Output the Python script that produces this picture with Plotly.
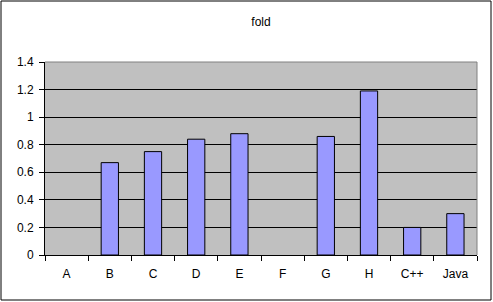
import plotly.graph_objects as go

categories = ["A", "B", "C", "D", "E", "F", "G", "H", "C++", "Java"]
values = [None, 0.67, 0.75, 0.84, 0.88, None, 0.86, 1.19, 0.20, 0.30]
y_ticks = [0, 0.2, 0.4, 0.6, 0.8, 1, 1.2, 1.4]
y_tick_text = ["0", "0.2", "0.4", "0.6", "0.8", "1", "1.2", "1.4"]

font_family = "Liberation Sans, Arial, sans-serif"

fig = go.Figure(
    go.Bar(
        x=categories,
        y=values,
        marker=dict(color="#9999FF", line=dict(color="black", width=1)),
    )
)

fig.update_layout(
    width=493,
    height=302,
    margin=dict(l=45, r=16, t=62, b=47),
    paper_bgcolor="white",
    plot_bgcolor="#C0C0C0",
    bargap=0.6,
    showlegend=False,
    font=dict(family=font_family, size=12, color="black"),
    title=dict(text="fold", x=0.5, xref="paper", xanchor="center",
               y=1 - 22 / 302, yanchor="middle",
               font=dict(family=font_family, size=12, color="black")),
)

fig.update_xaxes(
    type="category",
    showline=True, linecolor="black", linewidth=1,
    ticks="outside", ticklen=5, tickcolor="black", tickwidth=1,
    tickson="boundaries",
    ticklabelstandoff=8,
    showgrid=False,
    tickfont=dict(size=12),
)

fig.update_yaxes(
    range=[0, 1.4],
    tickmode="array", tickvals=y_ticks, ticktext=y_tick_text,
    showline=True, linecolor="black", linewidth=1,
    ticks="outside", ticklen=5, tickcolor="black", tickwidth=1,
    ticklabelstandoff=3,
    showgrid=True, gridcolor="black", gridwidth=1,
    zeroline=False,
    tickfont=dict(size=12),
)

# plot area border (top and right, gray)
fig.add_shape(type="line", xref="x domain", yref="y domain",
              x0=0, x1=1, y0=1, y1=1,
              line=dict(color="#808080", width=1), layer="above")
fig.add_shape(type="line", xref="x domain", yref="y domain",
              x0=1, x1=1, y0=0, y1=1,
              line=dict(color="#808080", width=1), layer="above")

# outer chart border
fig.add_shape(
    type="rect", xref="paper", yref="paper",
    x0=(1 - 45) / 432, x1=(491 - 45) / 432,
    y0=(255 - 300) / 193, y1=(255 - 1) / 193,
    line=dict(color="black", width=1), fillcolor="rgba(0,0,0,0)",
    layer="below",
)

fig.write_html("out.html")
